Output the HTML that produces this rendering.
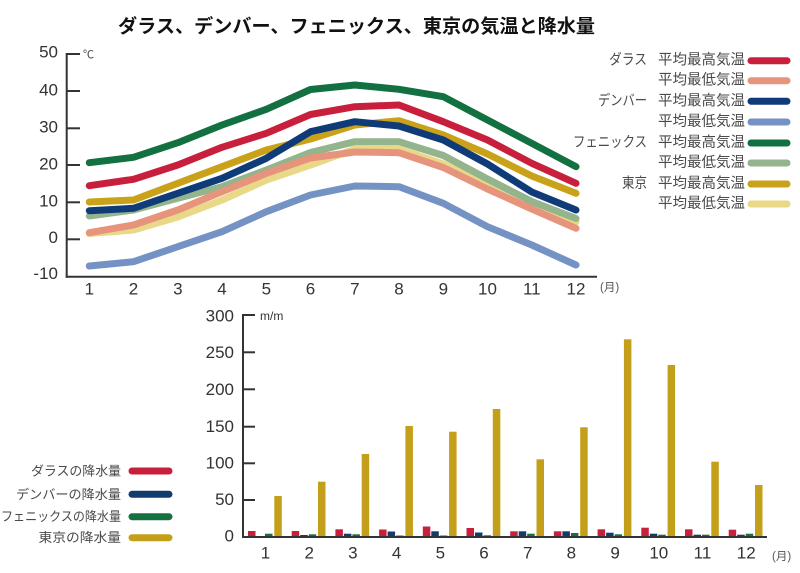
<!DOCTYPE html>
<html><head><meta charset="utf-8"><style>
html,body{margin:0;padding:0;background:#fff;}
svg{display:block;}
text{font-family:"Liberation Sans","Noto Sans CJK JP",sans-serif;}
</style></head><body>
<svg width="800" height="573" viewBox="0 0 800 573" xmlns="http://www.w3.org/2000/svg">
<rect width="800" height="573" fill="#fff"/>
<!-- Title -->
<text x="118" y="27" dominant-baseline="central" font-size="19" font-weight="bold" fill="#111" textLength="477" lengthAdjust="spacingAndGlyphs">ダラス、デンバー、フェニックス、東京の気温と降水量</text>

<!-- Top chart axes -->
<g stroke="#333" stroke-width="2" fill="none">
<line x1="66.7" y1="53" x2="66.7" y2="277.7"/>
<line x1="65.7" y1="276.7" x2="597" y2="276.7"/>
<line x1="66.7" y1="54" x2="80" y2="54"/>
<line x1="66.7" y1="91" x2="80" y2="91"/>
<line x1="66.7" y1="128.3" x2="80" y2="128.3"/>
<line x1="66.7" y1="165" x2="80" y2="165"/>
<line x1="66.7" y1="202.3" x2="80" y2="202.3"/>
<line x1="66.7" y1="239.3" x2="80" y2="239.3"/>
</g>
<g font-size="17" fill="#333" text-anchor="end" dominant-baseline="central">
<text x="58" y="52">50</text>
<text x="58" y="90">40</text>
<text x="58" y="127">30</text>
<text x="58" y="164">20</text>
<text x="58" y="201">10</text>
<text x="58" y="237.5">0</text>
<text x="58" y="273.5">-10</text>
</g>
<text x="83" y="55" font-size="11" fill="#444" dominant-baseline="central">℃</text>
<g font-size="17" fill="#333" text-anchor="middle" dominant-baseline="central">
<text x="89.3" y="289">1</text>
<text x="133.5" y="289">2</text>
<text x="177.8" y="289">3</text>
<text x="222" y="289">4</text>
<text x="266.3" y="289">5</text>
<text x="310.5" y="289">6</text>
<text x="354.8" y="289">7</text>
<text x="399" y="289">8</text>
<text x="443.3" y="289">9</text>
<text x="487.5" y="289">10</text>
<text x="531.8" y="289">11</text>
<text x="576" y="289">12</text>
</g>
<text x="600" y="288" font-size="11.5" fill="#555" dominant-baseline="central">(月)</text>

<!-- Top chart lines -->
<g fill="none" stroke-width="7" stroke-linejoin="round" stroke-linecap="round">
<polyline stroke="#e8d888" points="89.3,233.5 133.5,230 177.8,217 222,200 266.3,180 310.5,165 354.8,149 399,149 443.3,164 487.5,185 531.8,206.7 576,221.7"/>
<polyline stroke="#93b48c" points="89.3,216 133.5,210 177.8,198.3 222,186.7 266.3,170 310.5,152.5 354.8,141.7 399,141.7 443.3,155.5 487.5,179 531.8,201.5 576,218.5"/>
<polyline stroke="#e6957c" points="89.3,232.7 133.5,225 177.8,210 222,191.7 266.3,173.3 310.5,158 354.8,152 399,152.7 443.3,167.5 487.5,189 531.8,209 576,228.3"/>
<polyline stroke="#c9a21a" points="89.3,202 133.5,200 177.8,183.3 222,166.7 266.3,150 310.5,139 354.8,125 399,120.7 443.3,135 487.5,154 531.8,176 576,193.3"/>
<polyline stroke="#7592c4" points="89.3,266 133.5,261.7 177.8,246.7 222,231.7 266.3,211.7 310.5,195 354.8,186 399,186.7 443.3,203.3 487.5,226.7 531.8,245 576,265"/>
<polyline stroke="#0f3c78" points="89.3,210.7 133.5,208.3 177.8,193.3 222,178.3 266.3,158.3 310.5,131.7 354.8,121.7 399,126 443.3,140 487.5,164 531.8,192 576,210"/>
<polyline stroke="#c8203c" points="89.3,185.7 133.5,179.3 177.8,165 222,147.3 266.3,133.3 310.5,114.5 354.8,106.7 399,105 443.3,121.7 487.5,140 531.8,163.3 576,183.3"/>
<polyline stroke="#137040" points="89.3,162.7 133.5,157.3 177.8,142.7 222,125 266.3,109.3 310.5,89.5 354.8,85 399,89.3 443.3,96.7 487.5,120 531.8,143.3 576,166.7"/>
</g>

<!-- Top legend -->
<g stroke-width="7" stroke-linecap="round">
<line x1="751" y1="60.7" x2="787" y2="60.7" stroke="#c8203c"/>
<line x1="751" y1="80.7" x2="787" y2="80.7" stroke="#e6957c"/>
<line x1="751" y1="101.3" x2="787" y2="101.3" stroke="#0f3c78"/>
<line x1="751" y1="122" x2="787" y2="122" stroke="#7592c4"/>
<line x1="751" y1="143" x2="787" y2="143" stroke="#137040"/>
<line x1="751" y1="163" x2="787" y2="163" stroke="#93b48c"/>
<line x1="751" y1="184" x2="787" y2="184" stroke="#c9a21a"/>
<line x1="751" y1="204" x2="787" y2="204" stroke="#e8d888"/>
</g>
<g font-size="14.5" fill="#4a4a4a" text-anchor="end" dominant-baseline="central">
<text x="745" y="60.7" textLength="87" lengthAdjust="spacingAndGlyphs">平均最高気温</text>
<text x="745" y="80.7" textLength="87" lengthAdjust="spacingAndGlyphs">平均最低気温</text>
<text x="745" y="101.3" textLength="87" lengthAdjust="spacingAndGlyphs">平均最高気温</text>
<text x="745" y="122" textLength="87" lengthAdjust="spacingAndGlyphs">平均最低気温</text>
<text x="745" y="143" textLength="87" lengthAdjust="spacingAndGlyphs">平均最高気温</text>
<text x="745" y="163" textLength="87" lengthAdjust="spacingAndGlyphs">平均最低気温</text>
<text x="745" y="184" textLength="87" lengthAdjust="spacingAndGlyphs">平均最高気温</text>
<text x="745" y="204" textLength="87" lengthAdjust="spacingAndGlyphs">平均最低気温</text>
<text x="647" y="60.7" textLength="38" lengthAdjust="spacingAndGlyphs">ダラス</text>
<text x="647" y="101.3" textLength="49" lengthAdjust="spacingAndGlyphs">デンバー</text>
<text x="647" y="143" textLength="74" lengthAdjust="spacingAndGlyphs">フェニックス</text>
<text x="647" y="184" textLength="25" lengthAdjust="spacingAndGlyphs">東京</text>
</g>

<!-- Bottom chart bars -->
<g>
<!-- month centers c = 265 + (i-1)*43.7 -->
<!-- red -->
<g fill="#c8203c">
<rect x="248" y="531" width="7.5" height="6"/>
<rect x="291.7" y="531" width="7.5" height="6"/>
<rect x="335.4" y="529.3" width="7.5" height="7.7"/>
<rect x="379.1" y="529.5" width="7.5" height="7.5"/>
<rect x="422.8" y="526.5" width="7.5" height="10.5"/>
<rect x="466.5" y="528" width="7.5" height="9"/>
<rect x="510.2" y="531.3" width="7.5" height="5.7"/>
<rect x="553.9" y="531.3" width="7.5" height="5.7"/>
<rect x="597.6" y="529.3" width="7.5" height="7.7"/>
<rect x="641.3" y="527.7" width="7.5" height="9.3"/>
<rect x="685" y="529.3" width="7.5" height="7.7"/>
<rect x="728.7" y="529.7" width="7.5" height="7.3"/>
</g>
<!-- navy -->
<g fill="#123c70">
<rect x="300.2" y="535" width="7.5" height="2"/>
<rect x="343.9" y="533.7" width="7.5" height="3.3"/>
<rect x="387.6" y="531.5" width="7.5" height="5.5"/>
<rect x="431.3" y="531.3" width="7.5" height="5.7"/>
<rect x="475" y="532.5" width="7.5" height="4.5"/>
<rect x="518.7" y="531.3" width="7.5" height="5.7"/>
<rect x="562.4" y="531.3" width="7.5" height="5.7"/>
<rect x="606.1" y="532.7" width="7.5" height="4.3"/>
<rect x="649.8" y="533.7" width="7.5" height="3.3"/>
<rect x="693.5" y="534.7" width="7.5" height="2.3"/>
<rect x="737.2" y="534.7" width="7.5" height="2.3"/>
</g>
<!-- green -->
<g fill="#167040">
<rect x="265" y="533.7" width="7.5" height="3.3"/>
<rect x="308.7" y="534.3" width="7.5" height="2.7"/>
<rect x="352.4" y="534.3" width="7.5" height="2.7"/>
<rect x="396.1" y="535.5" width="7.5" height="1.5"/>
<rect x="439.8" y="535.5" width="7.5" height="1.5"/>
<rect x="483.5" y="535.3" width="7.5" height="1.7"/>
<rect x="527.2" y="533.7" width="7.5" height="3.3"/>
<rect x="570.9" y="533" width="7.5" height="4"/>
<rect x="614.6" y="534.3" width="7.5" height="2.7"/>
<rect x="658.3" y="534.7" width="7.5" height="2.3"/>
<rect x="702" y="534.7" width="7.5" height="2.3"/>
<rect x="745.7" y="533.7" width="7.5" height="3.3"/>
</g>
<!-- gold -->
<g fill="#c4a01a">
<rect x="274.3" y="496" width="7.5" height="41"/>
<rect x="318" y="481.7" width="7.5" height="55.3"/>
<rect x="361.7" y="454" width="7.5" height="83"/>
<rect x="405.4" y="426" width="7.5" height="111"/>
<rect x="449.1" y="431.7" width="7.5" height="105.3"/>
<rect x="492.8" y="409" width="7.5" height="128"/>
<rect x="536.5" y="459.3" width="7.5" height="77.7"/>
<rect x="580.2" y="427.3" width="7.5" height="109.7"/>
<rect x="623.9" y="339.3" width="7.5" height="197.7"/>
<rect x="667.6" y="365" width="7.5" height="172"/>
<rect x="711.3" y="461.7" width="7.5" height="75.3"/>
<rect x="755" y="485" width="7.5" height="52"/>
</g>
</g>

<!-- Bottom chart axes -->
<g stroke="#333" stroke-width="2" fill="none">
<line x1="243" y1="314" x2="243" y2="538"/>
<line x1="242" y1="537" x2="767" y2="537"/>
<line x1="243" y1="315" x2="255" y2="315"/>
<line x1="243" y1="352.3" x2="255" y2="352.3"/>
<line x1="243" y1="389.3" x2="255" y2="389.3"/>
<line x1="243" y1="426.7" x2="255" y2="426.7"/>
<line x1="243" y1="463.3" x2="255" y2="463.3"/>
<line x1="243" y1="500" x2="255" y2="500"/>
</g>
<g font-size="17" fill="#333" text-anchor="end" dominant-baseline="central">
<text x="234" y="316">300</text>
<text x="234" y="352.5">250</text>
<text x="234" y="389.5">200</text>
<text x="234" y="426.5">150</text>
<text x="234" y="463">100</text>
<text x="234" y="499.5">50</text>
<text x="234" y="536">0</text>
</g>
<text x="260" y="316" font-size="12" fill="#333" dominant-baseline="central">m/m</text>
<g font-size="17" fill="#333" text-anchor="middle" dominant-baseline="central">
<text x="265.5" y="553">1</text>
<text x="309.2" y="553">2</text>
<text x="352.9" y="553">3</text>
<text x="396.6" y="553">4</text>
<text x="440.3" y="553">5</text>
<text x="484" y="553">6</text>
<text x="527.7" y="553">7</text>
<text x="571.4" y="553">8</text>
<text x="615.1" y="553">9</text>
<text x="658.8" y="553">10</text>
<text x="702.5" y="553">11</text>
<text x="746.2" y="553">12</text>
</g>
<text x="772" y="557" font-size="11.5" fill="#555" dominant-baseline="central">(月)</text>

<!-- Bottom legend -->
<g stroke-width="7" stroke-linecap="round">
<line x1="132" y1="471" x2="169" y2="471" stroke="#c8203c"/>
<line x1="132" y1="494.3" x2="169" y2="494.3" stroke="#123c70"/>
<line x1="132" y1="516.7" x2="169" y2="516.7" stroke="#167040"/>
<line x1="132" y1="537.7" x2="169" y2="537.7" stroke="#c4a01a"/>
</g>
<g font-size="13" fill="#4a4a4a" text-anchor="end" dominant-baseline="central">
<text x="121" y="471" textLength="90" lengthAdjust="spacingAndGlyphs">ダラスの降水量</text>
<text x="121" y="494.3" textLength="105" lengthAdjust="spacingAndGlyphs">デンバーの降水量</text>
<text x="121" y="516.7" textLength="120" lengthAdjust="spacingAndGlyphs">フェニックスの降水量</text>
<text x="121" y="537.7" textLength="82.5" lengthAdjust="spacingAndGlyphs">東京の降水量</text>
</g>
</svg>
</body></html>
